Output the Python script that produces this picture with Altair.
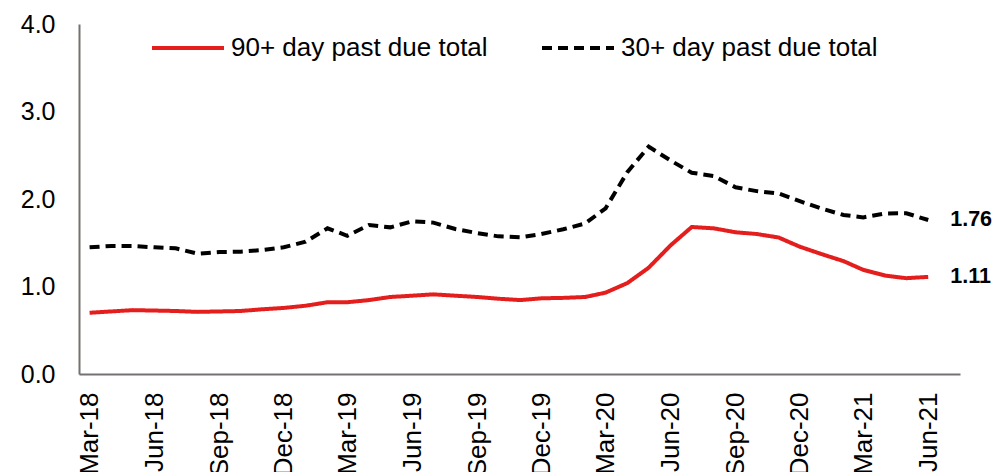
import altair as alt
import pandas as pd

# ---- data ----
months = pd.date_range("2018-03-01", periods=40, freq="MS").strftime("%Y-%m-%d").tolist()

series_names = ["90+ day past due total", "30+ day past due total"]

past_due_90 = [0.70, 0.715, 0.73, 0.725, 0.72, 0.71, 0.715, 0.72, 0.74, 0.755,
               0.78, 0.82, 0.82, 0.845, 0.88, 0.895, 0.91, 0.895, 0.88, 0.86,
               0.845, 0.865, 0.87, 0.88, 0.93, 1.04, 1.215, 1.47, 1.68, 1.665,
               1.62, 1.60, 1.56, 1.455, 1.37, 1.29, 1.19, 1.125, 1.095, 1.11]

past_due_30 = [1.448, 1.463, 1.463, 1.448, 1.436, 1.375, 1.394, 1.398, 1.417, 1.448,
               1.512, 1.665, 1.58, 1.703, 1.676, 1.745, 1.73, 1.657, 1.611, 1.573,
               1.562, 1.60, 1.654, 1.72, 1.894, 2.31, 2.598, 2.44, 2.30, 2.263,
               2.134, 2.09, 2.063, 1.975, 1.89, 1.817, 1.79, 1.834, 1.837, 1.76]

tick_months = ["2018-03-01", "2018-06-01", "2018-09-01", "2018-12-01",
               "2019-03-01", "2019-06-01", "2019-09-01", "2019-12-01",
               "2020-03-01", "2020-06-01", "2020-09-01", "2020-12-01",
               "2021-03-01", "2021-06-01"]
y_ticks = [0, 1, 2, 3, 4]

# ---- build table ----
rows = []
for name, vals in zip(series_names, [past_due_90, past_due_30]):
    for d, v in zip(months, vals):
        rows.append({"date": d, "series": name, "value": v})
df = pd.DataFrame(rows)
last = df[df["date"] == months[-1]].copy()
last["label"] = last["value"].map(lambda v: f"{v:.2f}")

FONT = "Liberation Sans"


def dt(s):
    y, m, d = (int(p) for p in s.split("-"))
    return alt.DateTime(year=y, month=m, date=d, utc=True)


x_enc = alt.X(
    "date:T",
    scale=alt.Scale(type="utc", domain=[dt("2018-02-14"), dt("2021-07-16")]),
    axis=alt.Axis(
        values=[dt(t) for t in tick_months],
        format="%b-%y",
        labelAngle=-90,
        labelFontSize=26,
        labelPadding=18,
        ticks=False,
        tickSize=0,
        grid=False,
        title=None,
        labelOverlap=False,
    ),
)
y_enc = alt.Y(
    "value:Q",
    scale=alt.Scale(domain=[0, 4], nice=False),
    axis=alt.Axis(
        values=y_ticks,
        format=".1f",
        labelFontSize=25,
        labelPadding=24,
        ticks=False,
        tickSize=0,
        grid=False,
        title=None,
    ),
)


def make_legend():
    return alt.Legend(
        title=None,
        orient="none",
        legendX=71,
        legendY=-14,
        direction="horizontal",
        symbolType="stroke",
        symbolSize=5184,
        symbolStrokeWidth=4,
        labelFontSize=26,
        labelFont=FONT,
        labelColor="#000000",
        labelOffset=5,
        labelLimit=500,
        columnPadding=46,
        padding=0,
    )


lines = alt.Chart(df).mark_line(strokeWidth=4).encode(
    x=x_enc,
    y=y_enc,
    color=alt.Color(
        "series:N",
        scale=alt.Scale(domain=series_names, range=["#E41E1C", "#000000"]),
        legend=make_legend(),
    ),
    strokeDash=alt.StrokeDash(
        "series:N",
        scale=alt.Scale(domain=series_names, range=[[1, 0], [10, 6]]),
        legend=make_legend(),
    ),
)

labels = alt.Chart(last).mark_text(
    align="left", baseline="middle", dx=22, fontSize=21.5, fontWeight="bold",
    font=FONT, color="#000000"
).encode(x=alt.X("date:T"), y=alt.Y("value:Q"), text="label:N")

chart = (
    alt.layer(lines, labels)
    .properties(
        width=881,
        height=350,
        autosize=alt.AutoSizeParams(type="none"),
        padding={"left": 71, "top": 16, "right": 32, "bottom": 98},
    )
    .configure_view(stroke=None)
    .configure_axis(
        labelFont=FONT,
        labelColor="#000000",
        domainColor="#767171",
        domainWidth=2,
    )
)

chart.save("out.html", embed_options={"renderer": "svg", "actions": False})
